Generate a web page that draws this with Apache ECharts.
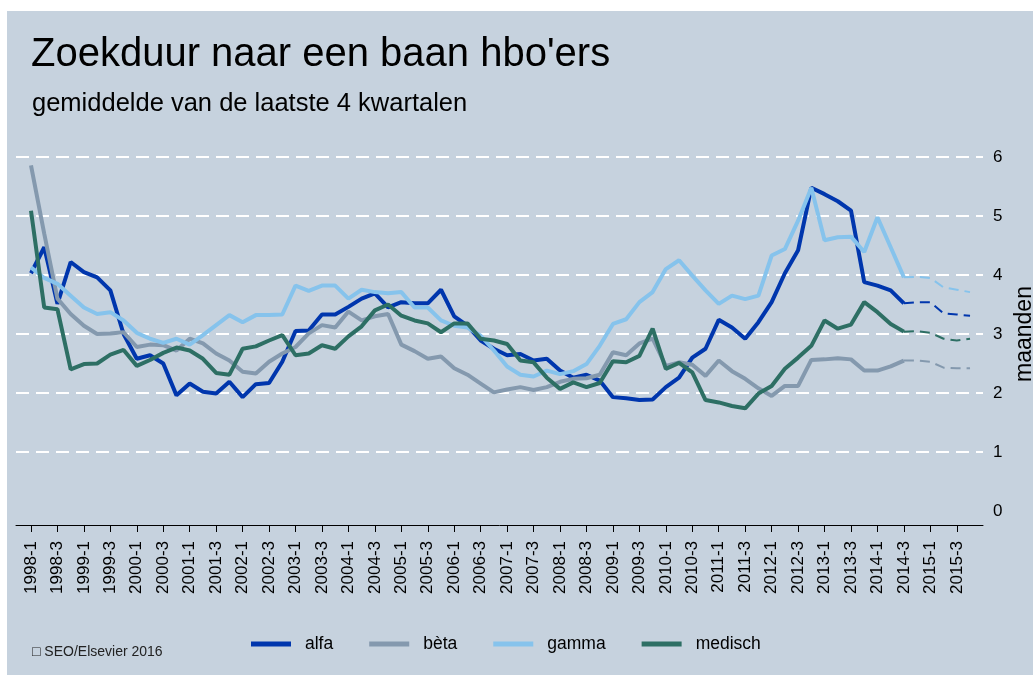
<!DOCTYPE html>
<html>
<head>
<meta charset="utf-8">
<script src="https://cdn.jsdelivr.net/npm/echarts@6/dist/echarts.min.js"></script>
<style>
  html, body { margin: 0; padding: 0; background: #ffffff; }
  #chart { position: absolute; left: 7px; top: 11px; width: 1026px; height: 664px; }
</style>
</head>
<body>
<div id="chart"></div>
<script>
// quarter labels 1998-1 .. 2015-4
const quarters = [];
for (let y = 1998; y <= 2015; y++) {
    for (let q = 1; q <= 4; q++) quarters.push(y + '-' + q);
}
const tickIdx = [0, 2, 4, 6, 8, 10, 12, 14, 16, 18, 20, 22, 24, 26, 28, 30, 32, 34,
    36, 38, 40, 42, 44, 46, 48, 50, 52, 54, 56, 58, 60, 62, 64, 66, 68, 70];

// realised, 1998-1 .. 2014-3
const alfa = [4.03, 4.47, 3.51, 4.22, 4.05, 3.96, 3.74, 3.0, 2.58, 2.64, 2.50, 1.96, 2.16, 2.02, 1.99, 2.19,
    1.93, 2.15, 2.17, 2.53, 3.05, 3.06, 3.33, 3.33, 3.46, 3.60, 3.69, 3.45, 3.54, 3.52, 3.52, 3.75,
    3.30, 3.14, 2.89, 2.75, 2.64, 2.66, 2.55, 2.58, 2.38, 2.26, 2.31, 2.21, 1.93, 1.91, 1.88, 1.89,
    2.10, 2.26, 2.60, 2.75, 3.24, 3.11, 2.92, 3.20, 3.54, 4.03, 4.42, 5.48, 5.37, 5.25, 5.09, 3.88,
    3.82, 3.74, 3.52];
const beta = [5.86, 4.70, 3.60, 3.34, 3.14, 3.00, 3.01, 3.03, 2.78, 2.82, 2.81, 2.72, 2.92, 2.84, 2.67, 2.55,
    2.36, 2.33, 2.53, 2.67, 2.78, 3.01, 3.15, 3.11, 3.38, 3.23, 3.30, 3.34, 2.82, 2.71, 2.58, 2.62,
    2.42, 2.31, 2.16, 2.01, 2.06, 2.10, 2.05, 2.10, 2.19, 2.24, 2.25, 2.31, 2.69, 2.64, 2.84, 2.92,
    2.46, 2.52, 2.48, 2.29, 2.55, 2.37, 2.24, 2.08, 1.95, 2.12, 2.12, 2.56, 2.57, 2.59, 2.57, 2.38,
    2.38, 2.45, 2.55];
const gamma = [4.13, 3.95, 3.85, 3.65, 3.45, 3.34, 3.37, 3.23, 3.02, 2.92, 2.85, 2.92, 2.82, 2.98, 3.15, 3.32,
    3.20, 3.32, 3.32, 3.33, 3.82, 3.73, 3.82, 3.82, 3.60, 3.75, 3.71, 3.69, 3.71, 3.45, 3.45, 3.23,
    3.14, 3.11, 2.97, 2.72, 2.45, 2.31, 2.28, 2.38, 2.32, 2.37, 2.49, 2.80, 3.17, 3.25, 3.54, 3.71,
    4.10, 4.25, 3.99, 3.74, 3.51, 3.65, 3.59, 3.65, 4.33, 4.44, 4.92, 5.48, 4.59, 4.64, 4.65, 4.39,
    4.98, 4.47, 3.96];
const medisch = [5.09, 3.45, 3.42, 2.40, 2.49, 2.50, 2.65, 2.73, 2.46, 2.56, 2.68, 2.77, 2.72, 2.58, 2.34, 2.31,
    2.75, 2.79, 2.89, 2.98, 2.64, 2.67, 2.81, 2.75, 2.96, 3.13, 3.40, 3.50, 3.31, 3.23, 3.18, 3.03,
    3.18, 3.18, 2.92, 2.89, 2.83, 2.55, 2.52, 2.26, 2.07, 2.18, 2.10, 2.17, 2.54, 2.52, 2.63, 3.09,
    2.41, 2.51, 2.35, 1.88, 1.84, 1.78, 1.74, 1.99, 2.12, 2.41, 2.60, 2.80, 3.23, 3.09, 3.16, 3.54,
    3.37, 3.17, 3.04];

// forecast, 2014-4 .. 2015-4
const alfaForecast = [3.54, 3.54, 3.35, 3.33, 3.31];
const betaForecast = [2.55, 2.53, 2.43, 2.42, 2.42];
const gammaForecast = [3.97, 3.95, 3.79, 3.75, 3.71];
const medischForecast = [3.05, 3.02, 2.92, 2.89, 2.92];

const names = ['alfa', 'bèta', 'gamma', 'medisch'];
const colors = ['#0036ad', '#8499ae', '#86c3ec', '#2d6f64'];
const realised = [alfa, beta, gamma, medisch];
const forecast = [alfaForecast, betaForecast, gammaForecast, medischForecast];

const font = "'Liberation Sans', Arial, sans-serif";
const series = [];
realised.forEach(function (vals, k) {
    series.push({
        name: names[k],
        type: 'line',
        data: vals.map(function (v, i) { return [i, v]; }),
        symbol: 'none',
        color: colors[k],
        lineStyle: { width: 4, color: colors[k] },
        z: 3
    });
});
realised.forEach(function (vals, k) {
    const last = vals.length - 1;
    const pts = [[last, vals[last]]].concat(forecast[k].map(function (v, j) { return [last + 1 + j, v]; }));
    series.push({
        name: names[k] + ' prognose',
        type: 'line',
        data: pts,
        symbol: 'none',
        color: colors[k],
        lineStyle: { width: 2, color: colors[k], type: [10, 6] },
        z: 2
    });
});

const chart = echarts.init(document.getElementById('chart'), null, { renderer: 'canvas' });
chart.setOption({
    backgroundColor: '#c6d2de',
    animation: false,
    textStyle: { fontFamily: font },
    title: [
        { text: "Zoekduur naar een baan hbo'ers", left: 19, top: 19,
          textStyle: { fontSize: 40, fontWeight: 'normal', color: '#000', fontFamily: font } },
        { text: 'gemiddelde van de laatste 4 kwartalen', left: 20, top: 75,
          textStyle: { fontSize: 25.5, fontWeight: 'normal', color: '#000', fontFamily: font } },
        { text: '\u25a1 SEO/Elsevier 2016', left: 20, top: 629,
          textStyle: { fontSize: 14, fontWeight: 'normal', color: '#222', fontFamily: font } }
    ],
    legend: {
        data: names,
        left: 239,
        top: 619,
        icon: 'rect',
        itemWidth: 40,
        itemHeight: 5,
        itemGap: 36,
        textStyle: { fontSize: 17.5, color: '#000', fontFamily: font, padding: [0, 0, 0, 9] }
    },
    grid: { left: 9, right: 50, top: 146, bottom: 164, outerBoundsMode: 'none' },
    xAxis: {
        type: 'value',
        min: -1.134,
        max: 71.98,
        offset: 14,
        splitLine: { show: false },
        axisLine: { show: true, onZero: false, lineStyle: { color: '#000', width: 1 } },
        axisTick: { show: true, customValues: tickIdx, length: 7, lineStyle: { color: '#000' } },
        axisLabel: {
            customValues: tickIdx,
            rotate: 90,
            margin: 16,
            fontSize: 17,
            color: '#000',
            fontFamily: font,
            formatter: function (v) { return quarters[v]; }
        }
    },
    yAxis: {
        type: 'value',
        position: 'right',
        min: 0,
        max: 6,
        interval: 1,
        axisLine: { show: false },
        axisTick: { show: false },
        axisLabel: { margin: 10, fontSize: 17, color: '#000', fontFamily: font },
        splitLine: { show: true, showMinLine: false, lineStyle: { color: '#ffffff', width: 2, type: [13, 7] } },
        name: 'maanden',
        nameLocation: 'middle',
        nameRotate: 90,
        nameGap: 28,
        nameTextStyle: { fontSize: 23, color: '#000', fontFamily: font }
    },
    series: series
});
window.addEventListener('resize', function () {
    chart.resize();
});
</script>
</body>
</html>
